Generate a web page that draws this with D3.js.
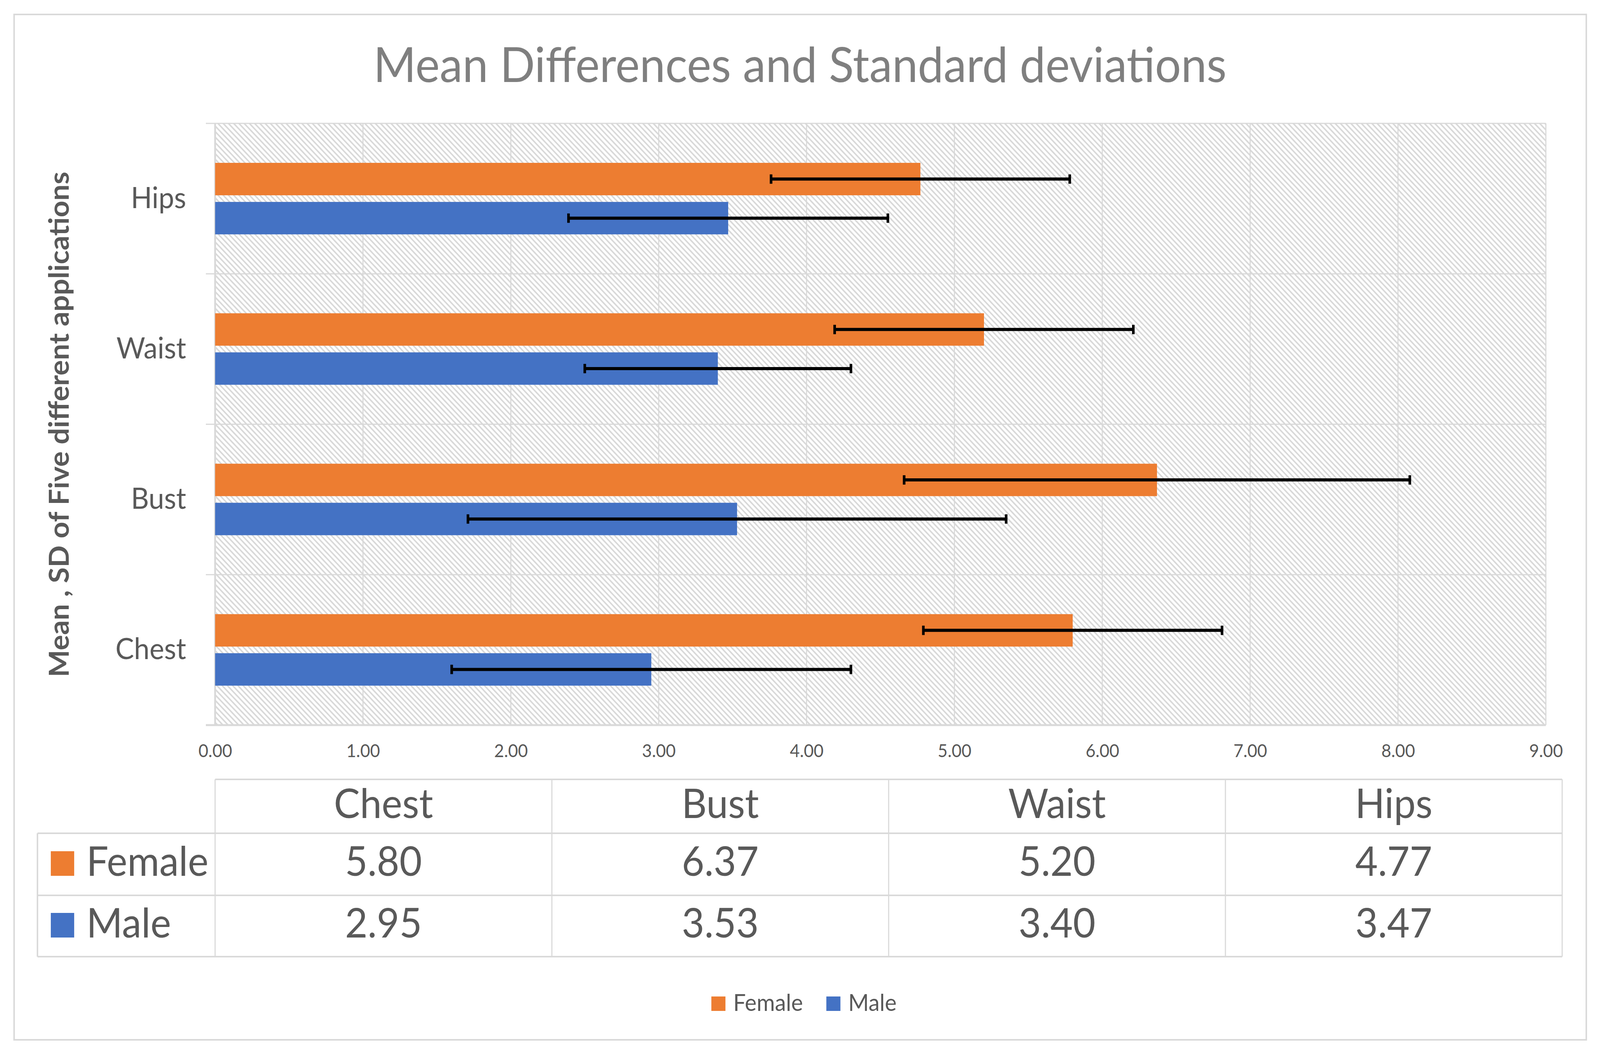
<!DOCTYPE html>
<html>
<head>
<meta charset="utf-8">
<script src="https://cdn.jsdelivr.net/npm/d3@7"></script>
<style>
  html, body { margin: 0; padding: 0; background: #fff; overflow: hidden; }
  #chart { width: 100vw; height: 100vh; }
  svg { display: block; }
  text { font-family: Lato, "Open Sans", sans-serif; }
</style>
</head>
<body>
<div id="chart"></div>
<script>
// data
const categories = ["Chest", "Bust", "Waist", "Hips"];
const series = ["Female", "Male"];
const femaleMean = [5.80, 6.37, 5.20, 4.77];
const maleMean = [2.95, 3.53, 3.40, 3.47];
const femaleSD = [1.01, 1.71, 1.01, 1.01];
const maleSD = [1.35, 1.82, 0.90, 1.08];
const xTicks = [0, 1, 2, 3, 4, 5, 6, 7, 8, 9];

const W = 4314, H = 2707;
const colors = { Female: "#ED7D31", Male: "#4472C4" };
const gridCol = "#d9d9d9";
const textCol = "#595959";
const plot = { left: 580, right: 4168, top: 316, bottom: 1857 };

const rows = categories.map((c, i) => ({
  cat: c,
  Female: { mean: femaleMean[i], sd: femaleSD[i] },
  Male: { mean: maleMean[i], sd: maleSD[i] },
}));

// fixed drawing space, scaled to whatever the window is
const svg = d3.select("#chart").append("svg")
  .attr("viewBox", `0 0 ${W} ${H}`)
  .attr("preserveAspectRatio", "none")
  .attr("width", "100%").attr("height", "100%");

// chart border
svg.append("rect")
  .attr("x", 38).attr("y", 37).attr("width", 4239).attr("height", 2626)
  .attr("fill", "#fff").attr("stroke", gridCol).attr("stroke-width", 4);

// hatch pattern for plot area
const defs = svg.append("defs");
const pat = defs.append("pattern")
  .attr("id", "hatch")
  .attr("patternUnits", "userSpaceOnUse")
  .attr("width", 10).attr("height", 10)
  .attr("patternTransform", "rotate(-45)");
pat.append("rect").attr("width", 10).attr("height", 10).attr("fill", "#fff");
pat.append("rect").attr("width", 4).attr("height", 10).attr("fill", gridCol);

const x = d3.scaleLinear().domain([0, 9]).range([plot.left, plot.right]);
const y = d3.scaleBand().domain([...categories].reverse()).range([plot.top, plot.bottom]);
const sub = d3.scaleBand().domain(series).range([0, y.bandwidth()])
  .paddingInner(0.17).paddingOuter(1.01);

svg.append("rect")
  .attr("x", plot.left).attr("y", plot.top)
  .attr("width", plot.right - plot.left).attr("height", plot.bottom - plot.top)
  .attr("fill", "url(#hatch)");

// vertical gridlines
svg.append("g")
  .selectAll("line")
  .data(xTicks.slice(1))
  .join("line")
  .attr("x1", (d) => x(d)).attr("x2", (d) => x(d))
  .attr("y1", plot.top).attr("y2", plot.bottom)
  .attr("stroke", gridCol).attr("stroke-width", 3);

// category boundaries (gridlines + outside ticks)
const bounds = y.domain().map((c) => y(c)).concat([plot.bottom]);
svg.append("g")
  .selectAll("line")
  .data(bounds)
  .join("line")
  .attr("x1", plot.left - 25).attr("x2", plot.right)
  .attr("y1", (d) => d).attr("y2", (d) => d)
  .attr("stroke", gridCol)
  .attr("stroke-width", (d, i) => (i === bounds.length - 1 ? 5 : 3));

svg.append("line")
  .attr("x1", plot.left).attr("x2", plot.left)
  .attr("y1", plot.top).attr("y2", plot.bottom)
  .attr("stroke", gridCol).attr("stroke-width", 5);

// bars
const barData = [];
rows.forEach((r) => series.forEach((s) => barData.push({ cat: r.cat, s, ...r[s] })));

svg.append("g")
  .selectAll("rect")
  .data(barData)
  .join("rect")
  .attr("x", x(0))
  .attr("y", (d) => y(d.cat) + sub(d.s))
  .attr("width", (d) => x(d.mean) - x(0))
  .attr("height", sub.bandwidth())
  .attr("fill", (d) => colors[d.s]);

// error bars
const eb = svg.append("g").attr("stroke", "#000");
const cy = (d) => y(d.cat) + sub(d.s) + sub.bandwidth() / 2;
eb.selectAll("line.bar")
  .data(barData)
  .join("line")
  .attr("class", "bar")
  .attr("x1", (d) => x(d.mean - d.sd)).attr("x2", (d) => x(d.mean + d.sd))
  .attr("y1", cy).attr("y2", cy)
  .attr("stroke-width", 8);
const caps = [];
barData.forEach((d) => {
  caps.push({ d, v: d.mean - d.sd });
  caps.push({ d, v: d.mean + d.sd });
});
eb.selectAll("line.cap")
  .data(caps)
  .join("line")
  .attr("class", "cap")
  .attr("x1", (c) => x(c.v)).attr("x2", (c) => x(c.v))
  .attr("y1", (c) => cy(c.d) - 12).attr("y2", (c) => cy(c.d) + 12)
  .attr("stroke-width", 7);

// category axis labels
const yAxis = svg.append("g")
  .attr("transform", `translate(${plot.left},0)`)
  .call(d3.axisLeft(y).tickSize(0).tickPadding(78));
yAxis.select(".domain").remove();
yAxis.selectAll("text")
  .attr("font-size", 75)
  .attr("fill", textCol)
  .style("font-family", "Lato, sans-serif");

// value axis labels
const xAxis = svg.append("g")
  .attr("transform", `translate(0,${plot.bottom})`)
  .call(d3.axisBottom(x).tickValues(xTicks).tickFormat(d3.format(".2f")).tickSize(0).tickPadding(49));
xAxis.select(".domain").remove();
xAxis.selectAll("text")
  .attr("font-size", 46)
  .attr("fill", textCol)
  .style("font-family", "Lato, sans-serif");

// title
svg.append("text")
  .attr("x", 2157).attr("y", 210)
  .attr("text-anchor", "middle")
  .attr("font-size", 124)
  .attr("fill", "#7f7f7f")
  .text("Mean Differences and Standard deviations");

// y title
svg.append("text")
  .attr("transform", "translate(185,1087) rotate(-90)")
  .attr("text-anchor", "middle")
  .attr("font-size", 74)
  .attr("font-weight", 700)
  .attr("fill", textCol)
  .text("Mean , SD of Five different applications");

// data table
const tLeft = 580, tRight = 4212, keyLeft = 101;
const rowY = [1996, 2134, 2293, 2450];
const col = d3.scaleBand().domain(categories).range([tLeft, tRight]);
const tbl = svg.append("g").attr("stroke", gridCol).attr("stroke-width", 4);
tbl.append("line").attr("x1", tLeft).attr("x2", tRight).attr("y1", rowY[0]).attr("y2", rowY[0]);
rowY.slice(1).forEach((yy) => {
  tbl.append("line").attr("x1", keyLeft).attr("x2", tRight).attr("y1", yy).attr("y2", yy);
});
tbl.append("line").attr("x1", keyLeft).attr("x2", keyLeft).attr("y1", rowY[1]).attr("y2", rowY[3]);
categories.map((c) => col(c)).concat([tRight]).forEach((xx) => {
  tbl.append("line").attr("x1", xx).attr("x2", xx).attr("y1", rowY[0]).attr("y2", rowY[3])
    .attr("stroke-width", 3);
});

svg.append("g")
  .selectAll("text")
  .data(categories)
  .join("text")
  .attr("x", (c) => col(c) + col.bandwidth() / 2)
  .attr("y", 2095)
  .attr("text-anchor", "middle")
  .attr("font-size", 105)
  .attr("fill", textCol)
  .text((c) => c);

const fmt = d3.format(".2f");
const rowBase = { Female: 2243, Male: 2401 };
const keyTop = { Female: 2180, Male: 2338 };
series.forEach((s) => {
  const vals = s === "Female" ? femaleMean : maleMean;
  svg.append("g")
    .selectAll("text")
    .data(categories)
    .join("text")
    .attr("x", (c) => col(c) + col.bandwidth() / 2)
    .attr("y", rowBase[s])
    .attr("text-anchor", "middle")
    .attr("font-size", 105)
    .attr("fill", textCol)
    .text((c, i) => fmt(vals[i]));
  svg.append("rect")
    .attr("x", 137).attr("y", keyTop[s]).attr("width", 63).attr("height", 63)
    .attr("fill", colors[s]);
  svg.append("text")
    .attr("x", 233).attr("y", rowBase[s])
    .attr("font-size", 105)
    .attr("fill", textCol)
    .text(s);
});

// legend
const legendX = { Female: 1918, Male: 2228 };
series.forEach((s) => {
  svg.append("rect")
    .attr("x", legendX[s]).attr("y", 2552).attr("width", 38).attr("height", 37)
    .attr("fill", colors[s]);
  svg.append("text")
    .attr("x", legendX[s] + 59).attr("y", 2589)
    .attr("font-size", 60)
    .attr("fill", textCol)
    .text(s);
});
</script>
</body>
</html>
